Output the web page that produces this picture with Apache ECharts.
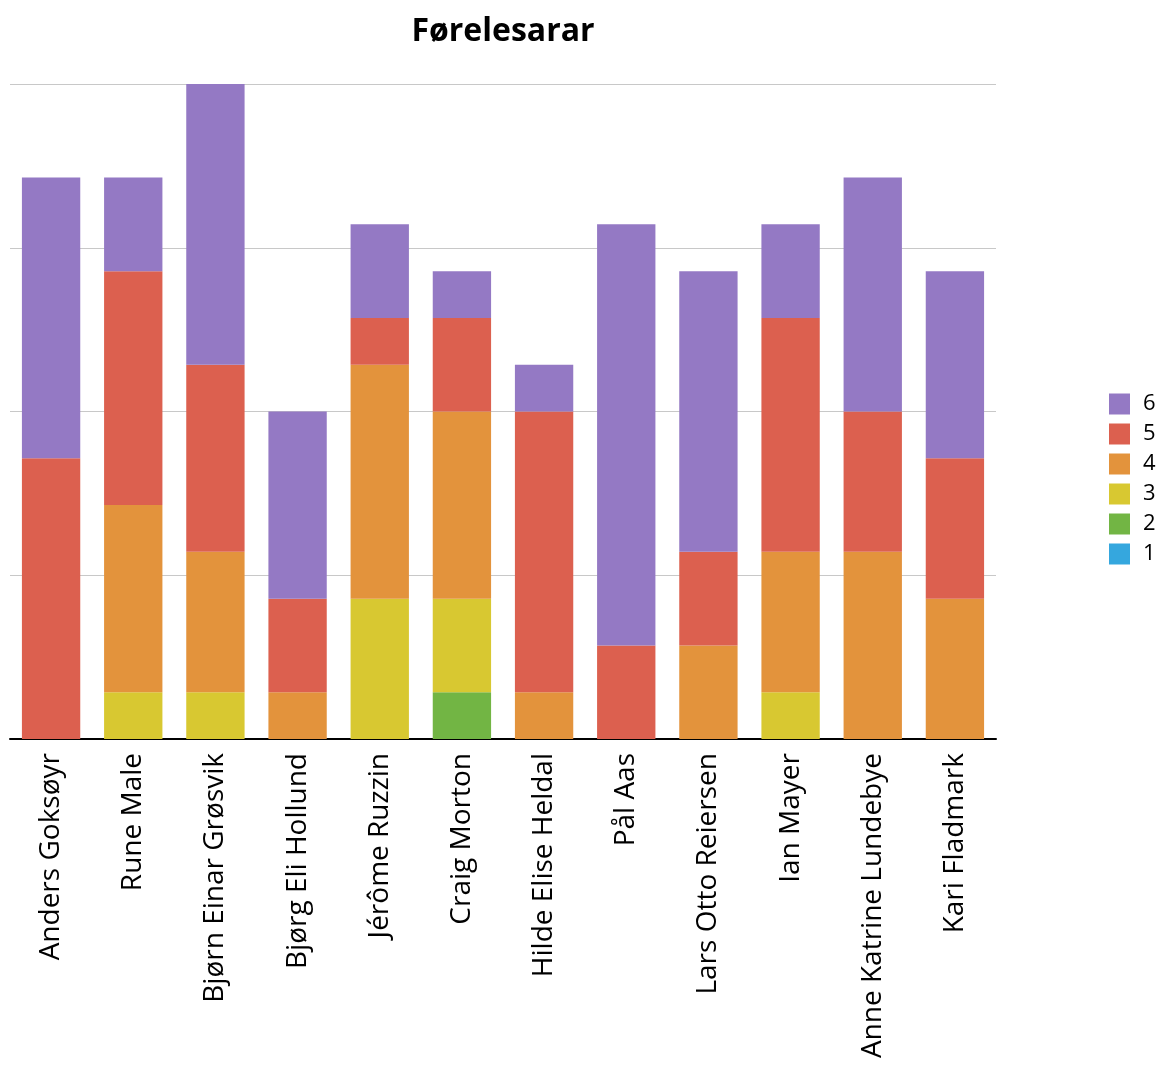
<!DOCTYPE html>
<html>
<head>
<meta charset="utf-8">
<script src="https://cdn.jsdelivr.net/npm/echarts@6/dist/echarts.min.js"></script>
<style>
  html, body { margin: 0; padding: 0; background: #fff; }
  #chart { width: 1161px; height: 1066px; }
</style>
</head>
<body>
<div id="chart"></div>
<script>
// names along the x axis
const lecturers = [
  "Anders Goksøyr", "Rune Male", "Bjørn Einar Grøsvik", "Bjørg Eli Hollund",
  "Jérôme Ruzzin", "Craig Morton", "Hilde Elise Heldal", "Pål Aas",
  "Lars Otto Reiersen", "Ian Mayer", "Anne Katrine Lundebye", "Kari Fladmark"
];
// count of each grade per lecturer
const grade1 = [0, 0, 0, 0, 0, 0, 0, 0, 0, 0, 0, 0];
const grade2 = [0, 0, 0, 0, 0, 1, 0, 0, 0, 0, 0, 0];
const grade3 = [0, 1, 1, 0, 3, 2, 0, 0, 0, 1, 0, 0];
const grade4 = [0, 4, 3, 1, 5, 4, 1, 0, 2, 3, 4, 3];
const grade5 = [6, 5, 4, 2, 1, 2, 6, 2, 2, 5, 3, 3];
const grade6 = [6, 2, 6, 4, 2, 1, 1, 9, 6, 2, 5, 4];

const grades = [
  { name: "1", data: grade1, color: "#35a7de" },
  { name: "2", data: grade2, color: "#72b544" },
  { name: "3", data: grade3, color: "#d8c831" },
  { name: "4", data: grade4, color: "#e3933c" },
  { name: "5", data: grade5, color: "#dc604f" },
  { name: "6", data: grade6, color: "#9479c4" }
];

const chart = echarts.init(document.getElementById("chart"));
const font = "'Open Sans', 'Noto Sans', sans-serif";

let option = {
  animation: false,
  title: {
    text: "Førelesarar",
    left: 498,
    textAlign: "center",
    top: 11,
    textStyle: { fontFamily: font, fontSize: 32, fontWeight: "bold", color: "#000" }
  },
  legend: {
    orient: "vertical",
    left: 1104,
    top: 388,
    itemWidth: 21,
    itemHeight: 21,
    itemGap: 8,
    icon: "rect",
    data: ["6", "5", "4", "3", "2", "1"],
    textStyle: { fontFamily: font, fontSize: 22, color: "#000", padding: [0, 0, 0, 8] }
  },
  grid: { left: 10, top: 84, width: 986, height: 655, containLabel: false },
  xAxis: {
    type: "category",
    data: lecturers,
    axisTick: { show: false },
    axisLine: { lineStyle: { color: "#000", width: 2 } },
    axisLabel: {
      rotate: 90,
      interval: 0,
      margin: 14,
      fontFamily: font,
      fontSize: 28,
      color: "#000"
    }
  },
  yAxis: {
    type: "value",
    min: 0,
    max: 14,
    interval: 3.5,
    axisLabel: { show: false },
    axisLine: { show: false },
    axisTick: { show: false },
    splitLine: { lineStyle: { color: "#c8c8c8", width: 1 } }
  },
  series: []
};

for (let i = 0; i < grades.length; i++) {
  option.series.push({
    name: grades[i].name,
    type: "bar",
    stack: "total",
    barCategoryGap: "29%",
    data: grades[i].data,
    itemStyle: { color: grades[i].color }
  });
}

chart.setOption(option);
</script>
</body>
</html>
